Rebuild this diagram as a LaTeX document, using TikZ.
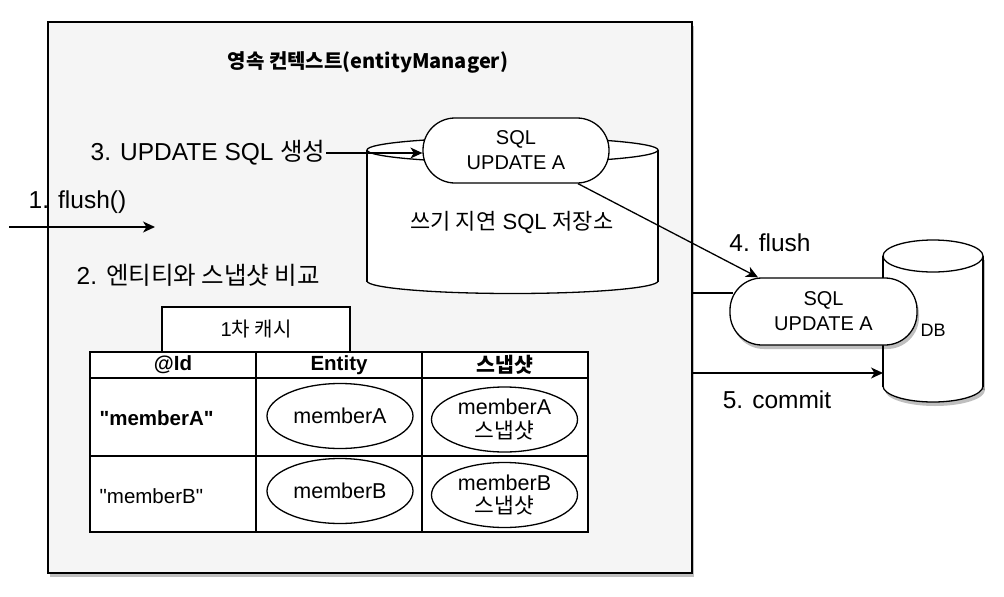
\documentclass[tikz,border=0pt]{standalone}
\usepackage{fontspec}
\setmainfont{Liberation Sans}[Ligatures=TeXOff]
\newfontfamily\kofont{Noto Sans CJK KR}
\usetikzlibrary{arrows.meta,shapes.geometric,shadows,calc}
\definecolor{boxbg}{HTML}{F5F5F5}
\begin{document}
\begin{tikzpicture}[x=1pt,y=-1pt, line width=1.3pt,
  lbl/.style={inner sep=0pt, font=\fontsize{24.5}{28}\selectfont},
  arr/.style={-{Stealth[length=12pt,width=11pt,inset=3.5pt]}, line width=1.3pt},
  pill/.style={draw, fill=white, rounded corners=32pt, minimum width=186pt, minimum height=65pt, align=center, inner sep=0pt, font=\fontsize{20}{25}\selectfont},
  cell/.style={inner sep=0pt, font=\fontsize{20.5}{24}\selectfont},
  ell/.style={draw, fill=white, ellipse, minimum width=146pt, minimum height=65pt, inner sep=0pt, align=center, font=\fontsize{21.5}{24}\selectfont},
  shd/.style={drop shadow={shadow xshift=2pt, shadow yshift=-4pt, opacity=0.25, fill=black}}]
\fill[white] (0,0) rectangle (1004,597);
\useasboundingbox (0,0) rectangle (1004,597);

% persistence context box
\node[draw, fill=boxbg, shd, minimum width=644pt, minimum height=551pt, inner sep=0pt] (box) at (370,297.5) {};
\node[inner sep=0pt, font=\kofont\bfseries\fontsize{20}{24}\selectfont] (title) at (368,62) {영속 컨텍스트(entityManager)};

% write-behind SQL store cylinder
\draw[fill=white] (512.5,281) ellipse[x radius=145.5, y radius=12.5];
\fill[white] (367,150) rectangle (658,281);
\draw (367,150) -- (367,281.5);
\draw (658,150) -- (658,281.5);
\draw[fill=white] (512.5,150) ellipse[x radius=145.5, y radius=12.5];
\node[inner sep=0pt, font=\fontsize{22}{26}\selectfont] (store) at (512,222) {{\kofont 쓰기 지연} SQL {\kofont 저장소}};

\node[pill] (pill1) at (516,150.5) {SQL\\UPDATE A};

% labels and arrows on the left
\node[lbl, anchor=west] (t3) at (90,153) {3. UPDATE SQL {\kofont 생성}};
\draw[arr] (t3.east) -- (t3.east -| pill1.west);
\node[lbl, anchor=west] (t1) at (28,202) {1. flush()};
\coordinate (f1a) at (9,227);
\coordinate (f1b) at (155,227);
\draw[arr] (f1a) -- (f1b);
\node[lbl, anchor=west] (t2) at (76,275) {2. {\kofont 엔티티와 스냅샷 비교}};

% DB cylinder
\begin{scope}[shift={(2,4)}, opacity=0.25]
\fill[black] (933,386) ellipse[x radius=50, y radius=16];
\fill[black] (883,256) rectangle (983,386);
\end{scope}
\draw[fill=white] (933,386) ellipse[x radius=50, y radius=16];
\fill[white] (883,256) rectangle (983,386);
\draw (883,256) -- (883,386.5);
\draw (983,256) -- (983,386.5);
\draw[fill=white] (933,256) ellipse[x radius=50, y radius=16];
\node[inner sep=0pt, font=\fontsize{18}{22}\selectfont] (db) at (933,330) {DB};
\coordinate (dbl) at (883,373);

\node[pill, shd, minimum width=187pt, minimum height=67pt] (pill2) at (823.5,311.5) {SQL\\UPDATE A};

% connectors to the DB
\draw[arr] ($(pill1.south)+(62,0)$) -- ($(pill2.north)+(-65.5,0)$);
\node[lbl] (t4) at (770,243) {4. flush};
\coordinate (p2l) at (733,293);
\draw (box.east |- p2l) -- (p2l);
\draw[arr] (box.east |- dbl) -- (dbl);
\node[lbl] (t5) at (777,400) {5. commit};

% first-level cache
\node[draw, fill=white, minimum width=188pt, minimum height=45pt, inner sep=0pt, font=\fontsize{20}{24}\selectfont] (cache) at (256,329.5) {1{\kofont 차 캐시}};
\draw[fill=white] (90,352) rectangle (588,532);
\draw (90,378) -- (588,378);
\draw (90,456) -- (588,456);
\draw (256,352) -- (256,532);
\draw (422,352) -- (422,532);
\node[cell, font=\bfseries\fontsize{20.5}{24}\selectfont] (h1) at (173,365) {@Id};
\node[cell, font=\bfseries\fontsize{20.5}{24}\selectfont] (h2) at (339,365) {Entity};
\node[cell, font=\kofont\bfseries\fontsize{20.5}{24}\selectfont] (h3) at (505,365) {스냅샷};
\node[cell, anchor=west, font=\bfseries\fontsize{20.5}{24}\selectfont] (ka) at (99,418) {"memberA"};
\node[cell, anchor=west] (kb) at (99,496) {"memberB"};
\node[ell] (ea) at (340,416) {memberA};
\node[ell] (sa) at (504.5,419.5) {memberA\\{\kofont 스냅샷}};
\node[ell] (eb) at (340,491) {memberB};
\node[ell] (sb) at (504.5,495) {memberB\\{\kofont 스냅샷}};
\end{tikzpicture}
\end{document}
